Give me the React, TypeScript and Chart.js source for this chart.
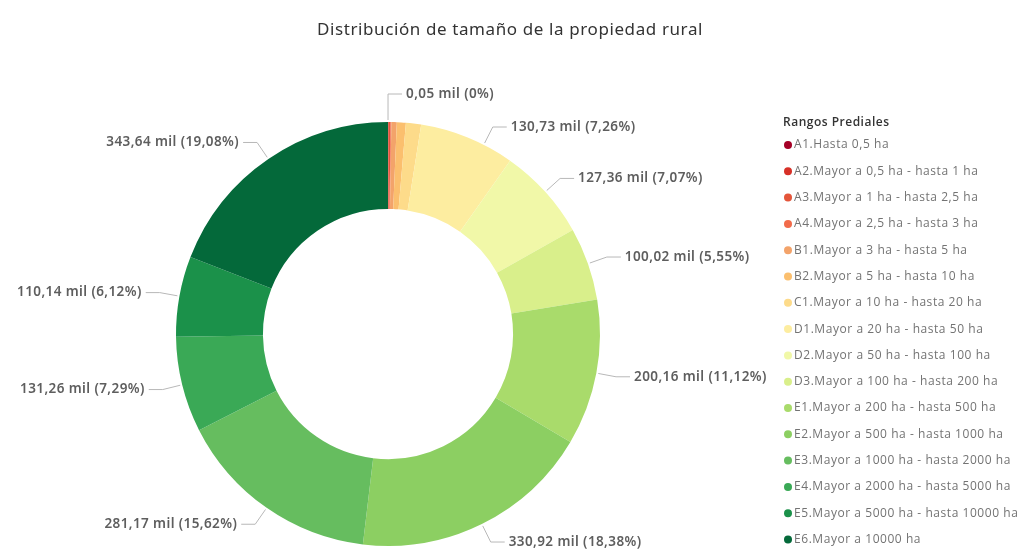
import React, { useEffect, useRef } from 'react';
import { Chart, registerables } from 'chart.js';

Chart.register(...registerables);

const chartTitle = 'Distribución de tamaño de la propiedad rural';
const legendTitle = 'Rangos Prediales';

const categories = [
  'A1.Hasta 0,5 ha',
  'A2.Mayor a 0,5 ha - hasta 1 ha',
  'A3.Mayor a 1 ha - hasta 2,5 ha',
  'A4.Mayor a 2,5 ha - hasta 3 ha',
  'B1.Mayor a 3 ha - hasta 5 ha',
  'B2.Mayor a 5 ha - hasta 10 ha',
  'C1.Mayor a 10 ha - hasta 20 ha',
  'D1.Mayor a 20 ha - hasta 50 ha',
  'D2.Mayor a 50 ha - hasta 100 ha',
  'D3.Mayor a 100 ha - hasta 200 ha',
  'E1.Mayor a 200 ha - hasta 500 ha',
  'E2.Mayor a 500 ha - hasta 1000 ha',
  'E3.Mayor a 1000 ha - hasta 2000 ha',
  'E4.Mayor a 2000 ha - hasta 5000 ha',
  'E5.Mayor a 5000 ha - hasta 10000 ha',
  'E6.Mayor a 10000 ha',
];

// values in thousands ("mil")
const values = [0.05, 0.9, 2.5, 1.1, 7.4, 12.3, 20.85, 130.73, 127.36, 100.02, 200.16, 330.92, 281.17, 131.26, 110.14, 343.64];

// percentage labels as shown (null = slice not labelled)
const percentLabels: (string | null)[] = [
  '0%', null, null, null, null, null, null,
  '7,26%', '7,07%', '5,55%', '11,12%', '18,38%', '15,62%', '7,29%', '6,12%', '19,08%',
];

const colors = [
  '#a50026', '#d73027', '#e4553a', '#f26b4a', '#f3a36a', '#fbbf6e', '#fddb8a', '#fdeda0',
  '#f1f8a8', '#d9ef8b', '#a9db6b', '#8ccf62', '#66bd5f', '#3aa956', '#1b914a', '#04693a',
];

const fmtValue = (v: number) => v.toFixed(2).replace('.', ',') + ' mil';

const overlayPlugin = {
  id: 'overlay',
  afterDatasetsDraw(chart: any) {
    const ctx = chart.ctx as any;
    const meta = chart.getDatasetMeta(0);
    const total = values.reduce((a, b) => a + b, 0);
    ctx.save();
    // title
    ctx.fillStyle = '#333333';
    ctx.font = '17px "Noto Sans"';
    ctx.letterSpacing = '0.6px';
    ctx.textAlign = 'center';
    ctx.textBaseline = 'middle';
    ctx.fillText(chartTitle, 510, 30);

    // data labels with leader lines
    ctx.font = '600 13.5px "Noto Sans"';
    ctx.letterSpacing = '0.4px';
    const items: any[] = [];
    meta.data.forEach((arc: any, i: number) => {
      const pct = percentLabels[i];
      if (pct == null) return;
      const { x, y, startAngle, endAngle, outerRadius } = arc.getProps(
        ['x', 'y', 'startAngle', 'endAngle', 'outerRadius'], true);
      const mid = (startAngle + endAngle) / 2;
      const share = values[i] / total;
      const r0 = outerRadius + 2;
      const r1 = outerRadius + (share < 0.01 ? 28 : 20);
      items.push({ i, x, y, mid, r0, r1, right: Math.cos(mid) >= -1e-6, pct });
    });
    // simple collision avoidance on the right side (top to bottom)
    let prevY = -Infinity;
    items.filter((it) => it.right).forEach((it) => {
      let ey = it.y + Math.sin(it.mid) * it.r1;
      if (ey - prevY < 33) {
        ey = prevY + 33;
        const s = Math.max(-1, Math.min(1, (ey - it.y) / it.r1));
        it.mid = Math.asin(s);
      }
      prevY = ey;
    });
    items.forEach((it) => {
      const cos = Math.cos(it.mid);
      const sin = Math.sin(it.mid);
      const sx = it.x + cos * it.r0, sy = it.y + sin * it.r0;
      const ex = it.x + cos * it.r1, ey = it.y + sin * it.r1;
      const hx = it.right ? ex + 14 : ex - 14;
      ctx.strokeStyle = '#b8b8b8';
      ctx.lineWidth = 1;
      ctx.beginPath();
      ctx.moveTo(sx, sy);
      ctx.lineTo(ex, ey);
      ctx.lineTo(hx, ey);
      ctx.stroke();
      ctx.fillStyle = '#5e5e5e';
      ctx.textAlign = it.right ? 'left' : 'right';
      ctx.textBaseline = 'middle';
      ctx.fillText(`${fmtValue(values[it.i])} (${it.pct})`, it.right ? hx + 4 : hx - 4, ey);
    });

    // legend
    ctx.textAlign = 'left';
    ctx.textBaseline = 'middle';
    ctx.fillStyle = '#333333';
    ctx.font = '600 12px "Open Sans"';
    ctx.letterSpacing = '0.5px';
    ctx.fillText(legendTitle, 783, 123);
    ctx.font = '12px "Open Sans"';
    ctx.letterSpacing = '0.55px';
    categories.forEach((c, i) => {
      const cy = 145 + i * 26.3;
      ctx.fillStyle = colors[i];
      ctx.beginPath();
      ctx.arc(788, cy, 4, 0, Math.PI * 2);
      ctx.fill();
      ctx.fillStyle = '#737373';
      ctx.fillText(c, 794, cy);
    });
    ctx.restore();
  },
};

export default function App() {
  const ref = useRef<HTMLCanvasElement | null>(null);
  useEffect(() => {
    if (!ref.current) return;
    const chart = new Chart(ref.current, {
      type: 'doughnut',
      data: {
        labels: categories,
        datasets: [{
          data: values,
          backgroundColor: colors,
          borderWidth: 0,
        }],
      },
      options: {
        responsive: false,
        animation: false,
        cutout: '59%',
        layout: { padding: { left: 176, top: 122, right: 418, bottom: 14 } },
        plugins: {
          legend: { display: false },
          title: { display: false },
          tooltip: { enabled: false },
        },
      },
      plugins: [overlayPlugin],
    });
    return () => chart.destroy();
  }, []);
  return (
    <div style={{ position: 'absolute', left: 0, top: 0, width: 1018, height: 560, background: '#fff' }}>
      <canvas ref={ref} width={1018} height={560} />
    </div>
  );
}
